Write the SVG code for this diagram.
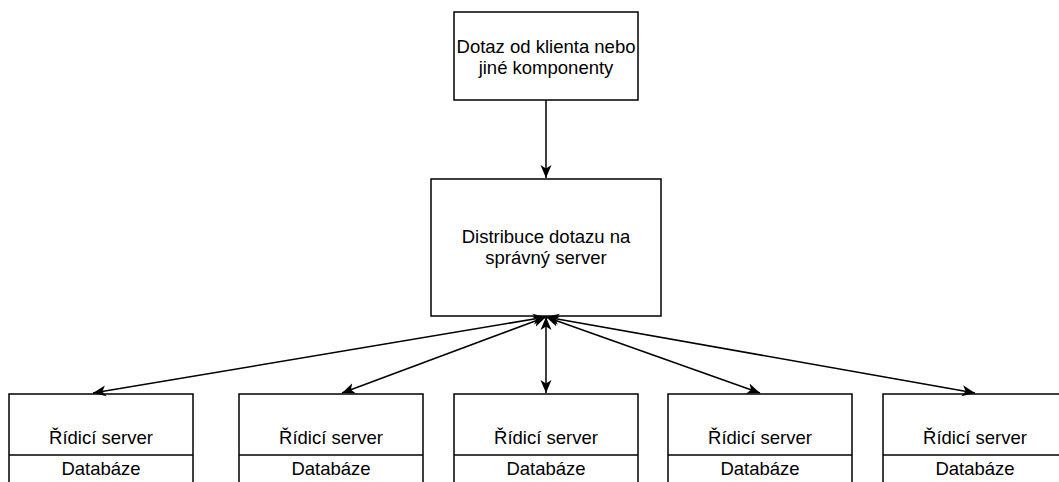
<svg xmlns="http://www.w3.org/2000/svg" width="1059" height="482" viewBox="0 0 1059 482">
<style>
.box{fill:#fff;stroke:#000;stroke-width:1.5}
.t{font-family:"Liberation Sans",Arial,Helvetica,sans-serif;font-size:18.5px;fill:#000;text-anchor:middle}
.c{fill:none;stroke:#000;stroke-width:1.5}
</style>
<defs>
<marker id="ah" markerUnits="userSpaceOnUse" markerWidth="15" markerHeight="12" refX="13" refY="5.5" orient="auto-start-reverse" viewBox="0 0 15 11">
<path d="M0,0 L13,5.5 L0,11 L3.5,5.5 Z" fill="#000"/>
</marker>
</defs>
<rect width="1059" height="482" fill="#fff"/>
<g id="n-dotaz">
<rect class="box" x="454" y="12" width="184" height="88"/>
<text class="t" x="546" y="53">Dotaz od klienta nebo</text>
<text class="t" x="546" y="74">jiné komponenty</text>
</g>
<g id="n-distribuce">
<rect class="box" x="431" y="179" width="230" height="137"/>
<text class="t" x="546" y="243">Distribuce dotazu na</text>
<text class="t" x="546" y="264">správný server</text>
</g>
<g id="n-s1">
<rect class="box" x="9" y="394" width="184" height="100"/>
<line class="c" x1="9" y1="455" x2="193" y2="455"/>
<text class="t" x="101" y="444">Řídicí server</text>
<text class="t" x="101" y="475">Databáze</text>
</g>
<g id="n-s2">
<rect class="box" x="239" y="394" width="184" height="100"/>
<line class="c" x1="239" y1="455" x2="423" y2="455"/>
<text class="t" x="331" y="444">Řídicí server</text>
<text class="t" x="331" y="475">Databáze</text>
</g>
<g id="n-s3">
<rect class="box" x="454" y="394" width="184" height="100"/>
<line class="c" x1="454" y1="455" x2="638" y2="455"/>
<text class="t" x="546" y="444">Řídicí server</text>
<text class="t" x="546" y="475">Databáze</text>
</g>
<g id="n-s4">
<rect class="box" x="668" y="394" width="184" height="100"/>
<line class="c" x1="668" y1="455" x2="852" y2="455"/>
<text class="t" x="760" y="444">Řídicí server</text>
<text class="t" x="760" y="475">Databáze</text>
</g>
<g id="n-s5">
<rect class="box" x="883" y="394" width="184" height="100"/>
<line class="c" x1="883" y1="455" x2="1067" y2="455"/>
<text class="t" x="975" y="444">Řídicí server</text>
<text class="t" x="975" y="475">Databáze</text>
</g>
<g id="connectors">
<line class="c" x1="546" y1="100" x2="546" y2="178" marker-end="url(#ah)"/>
<line class="c" x1="546" y1="317" x2="93" y2="393" marker-start="url(#ah)" marker-end="url(#ah)"/>
<line class="c" x1="546" y1="317" x2="342" y2="393" marker-start="url(#ah)" marker-end="url(#ah)"/>
<line class="c" x1="546" y1="317" x2="546" y2="393" marker-start="url(#ah)" marker-end="url(#ah)"/>
<line class="c" x1="546" y1="317" x2="760" y2="393" marker-start="url(#ah)" marker-end="url(#ah)"/>
<line class="c" x1="546" y1="317" x2="975" y2="393" marker-start="url(#ah)" marker-end="url(#ah)"/>
</g>
</svg>
